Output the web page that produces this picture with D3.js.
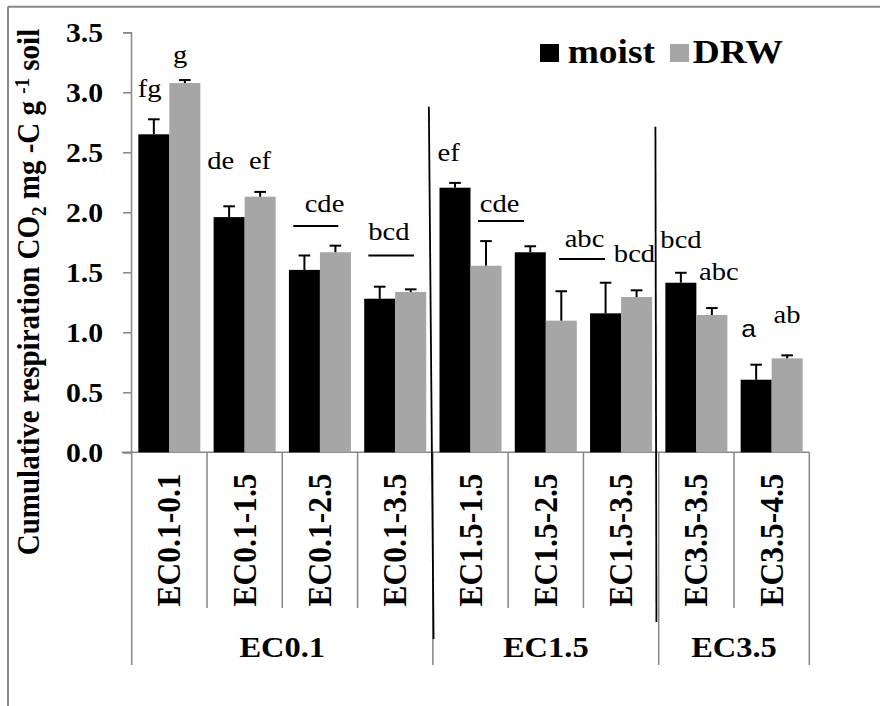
<!DOCTYPE html>
<html>
<head>
<meta charset="utf-8">
<script src="https://cdn.jsdelivr.net/npm/d3@7"></script>
<style>
  html, body { margin: 0; padding: 0; background: #fff; }
  svg { display: block; }
  .serif { font-family: "Liberation Serif", Tinos, "Times New Roman", Times, "DejaVu Serif", serif; }
  .sans { font-family: "Liberation Sans", Arimo, Arial, sans-serif; }
</style>
</head>
<body>
<svg id="chart" width="880" height="706"></svg>
<script>
// ---- data ----
const categories = ["EC0.1-0.1", "EC0.1-1.5", "EC0.1-2.5", "EC0.1-3.5",
                    "EC1.5-1.5", "EC1.5-2.5", "EC1.5-3.5",
                    "EC3.5-3.5", "EC3.5-4.5"];
const groups = ["EC0.1", "EC1.5", "EC3.5"];
const groupSizes = [4, 3, 2];
const seriesNames = ["moist", "DRW"];
const moist    = [2.65, 1.96, 1.52, 1.28, 2.205, 1.667, 1.158, 1.413, 0.605];
const moistErr = [0.125, 0.09, 0.12, 0.10, 0.04, 0.05, 0.255, 0.083, 0.125];
const drw      = [3.077, 2.13, 1.667, 1.336, 1.555, 1.097, 1.294, 1.144, 0.783];
const drwErr   = [0.025, 0.04, 0.055, 0.022, 0.205, 0.245, 0.056, 0.058, 0.025];
const yTicks   = [0, 0.5, 1.0, 1.5, 2.0, 2.5, 3.0, 3.5];

// significance letters: text, x in category units, y in data units
const letters = [
  {t: "fg",  u: 0.237, v: 2.964}, {t: "g",   u: 0.642, v: 3.242},
  {t: "de",  u: 1.183, v: 2.358}, {t: "ef",  u: 1.704, v: 2.358},
  {t: "cde", u: 2.561, v: 2.000}, {t: "bcd", u: 3.417, v: 1.769},
  {t: "ef",  u: 4.210, v: 2.428}, {t: "cde", u: 4.888, v: 2.005},
  {t: "abc", u: 6.014, v: 1.713}, {t: "bcd", u: 6.678, v: 1.588},
  {t: "bcd", u: 7.296, v: 1.700}, {t: "abc", u: 7.800, v: 1.436},
  {t: "a",   u: 8.195, v: 0.958, sans: true}, {t: "ab", u: 8.704, v: 1.075}
];
// bars sharing a letter set are joined by a short rule under the letters
const letterRules = [
  {u1: 2.146, u2: 2.744, v: 1.886}, {u1: 3.143, u2: 3.750, v: 1.640},
  {u1: 4.600, u2: 5.210, v: 1.928}, {u1: 5.676, u2: 6.287, v: 1.611}
];

// ---- layout ----
const SX = 1.1;               // slight horizontal widening of type
const svg = d3.select("#chart");
const plotL = 131.7, plotR = 809.3, plotT = 32.3, plotB = 452.3;

const x = d3.scaleBand().domain(d3.range(categories.length)).range([plotL, plotR]).padding(0);
const xs = d3.scaleBand().domain(seriesNames).range([0, x.bandwidth()]).paddingInner(0).paddingOuter(0.214);
const y = d3.scaleLinear().domain([0, 3.5]).range([plotB, plotT]);
const xu = d3.scaleLinear().domain([0, categories.length]).range([plotL, plotR]);

function textAt(px, py, rot, cls) {
  return svg.append("text").attr("class", cls || "serif")
    .attr("transform", `translate(${px},${py}) scale(${SX},1)` + (rot ? ` rotate(${rot})` : ""));
}

// outer frame (top and left edges)
svg.append("line").attr("x1", 8).attr("x2", 880).attr("y1", 6.7).attr("y2", 6.7)
  .attr("stroke", "#898989").attr("stroke-width", 2);
svg.append("line").attr("x1", 8).attr("x2", 8).attr("y1", 6.7).attr("y2", 706)
  .attr("stroke", "#898989").attr("stroke-width", 2);

// y axis
const yAxis = svg.append("g").attr("transform", `translate(${plotL - 0.7},0)`)
  .call(d3.axisLeft(y).tickValues(yTicks).tickSize(8).tickFormat(""));
yAxis.select(".domain").attr("stroke", "#868686").attr("stroke-width", 1.5);
yAxis.selectAll(".tick line").attr("stroke", "#868686").attr("stroke-width", 1.5);
yTicks.forEach(t => {
  textAt(103, y(t) + 9.3).attr("text-anchor", "end")
    .attr("font-weight", "bold").attr("font-size", 27)
    .text(d3.format(".1f")(t));
});

// x axis baseline
svg.append("line").attr("x1", plotL - 10).attr("x2", plotR).attr("y1", plotB).attr("y2", plotB)
  .attr("stroke", "#868686").attr("stroke-width", 1.5);

// category separators under the axis
const groupStarts = [0];
groupSizes.forEach((n, i) => groupStarts.push(groupStarts[i] + n));
for (let i = 0; i <= categories.length; i++) {
  const isGroupEdge = groupStarts.includes(i);
  const xp = i < categories.length ? x(i) : plotR;
  svg.append("line").attr("x1", xp).attr("x2", xp)
    .attr("y1", plotB).attr("y2", isGroupEdge ? 665 : 608)
    .attr("stroke", "#868686").attr("stroke-width", 1.5);
}

// bars
const bars = svg.append("g");
categories.forEach((c, i) => {
  [[moist, "#000000", "moist"], [drw, "#a6a6a6", "DRW"]].forEach(([vals, col, s]) => {
    bars.append("rect")
      .attr("x", x(i) + xs(s)).attr("width", xs.bandwidth())
      .attr("y", y(vals[i])).attr("height", y(0) - y(vals[i]))
      .attr("fill", col);
  });
});

// error bars (upper half)
const errs = svg.append("g").attr("stroke", "#000").attr("stroke-width", 2);
categories.forEach((c, i) => {
  [[moist, moistErr, "moist"], [drw, drwErr, "DRW"]].forEach(([vals, e, s]) => {
    const cx = x(i) + xs(s) + xs.bandwidth() / 2;
    const top = y(vals[i] + e[i]);
    errs.append("line").attr("x1", cx).attr("x2", cx).attr("y1", y(vals[i])).attr("y2", top);
    errs.append("line").attr("x1", cx - 5.8).attr("x2", cx + 5.8).attr("y1", top).attr("y2", top);
  });
});

// significance letters
letters.forEach(d => {
  textAt(xu(d.u), y(d.v), 0, d.sans ? "sans" : "serif").attr("text-anchor", "middle")
    .attr("font-size", d.sans ? 24 : 26)
    .attr("fill", "#000").text(d.t);
});
letterRules.forEach(d => {
  svg.append("line").attr("x1", xu(d.u1)).attr("x2", xu(d.u2)).attr("y1", y(d.v)).attr("y2", y(d.v))
    .attr("stroke", "#000").attr("stroke-width", 2);
});

// hand-drawn group dividers
svg.append("line").attr("x1", x(4) - 4).attr("y1", y(2.88)).attr("x2", x(4) + 0.7).attr("y2", 639)
  .attr("stroke", "#000").attr("stroke-width", 1.8);
svg.append("line").attr("x1", x(7) - 3.3).attr("y1", y(2.713)).attr("x2", x(7) - 2.3).attr("y2", 622)
  .attr("stroke", "#000").attr("stroke-width", 1.8);

// category labels (rotated)
categories.forEach((c, i) => {
  textAt(x(i) + x.bandwidth() / 2 + 11, 540, -90).attr("text-anchor", "middle")
    .attr("font-weight", "bold").attr("font-size", 31.5)
    .text(c);
});

// group labels
groups.forEach((g, k) => {
  const a = x(groupStarts[k]);
  const b = groupStarts[k + 1] < categories.length ? x(groupStarts[k + 1]) : plotR;
  textAt((a + b) / 2, 656.7).attr("text-anchor", "middle")
    .attr("font-weight", "bold").attr("font-size", 29.5)
    .text(g);
});

// y axis title
const yt = textAt(39, 292, -90).attr("text-anchor", "middle")
  .attr("font-weight", "bold").attr("font-size", 29);
yt.append("tspan").text("Cumulative respiration CO");
yt.append("tspan").attr("font-size", 19).attr("dy", 6).text("2");
yt.append("tspan").attr("dy", -6).text(" mg -C g ");
yt.append("tspan").attr("font-size", 19).attr("dy", -9).text("-1");
yt.append("tspan").attr("dy", 9).text(" soil");

// legend
const legend = [{name: "moist", col: "#000000", sq: 540, tx: 567.7},
                {name: "DRW", col: "#a6a6a6", sq: 670, tx: 692.7}];
legend.forEach(l => {
  svg.append("rect").attr("x", l.sq).attr("y", 44).attr("width", 19).attr("height", 18).attr("fill", l.col);
  textAt(l.tx, 63).attr("font-weight", "bold").attr("font-size", 34).text(l.name);
});
</script>
</body>
</html>
